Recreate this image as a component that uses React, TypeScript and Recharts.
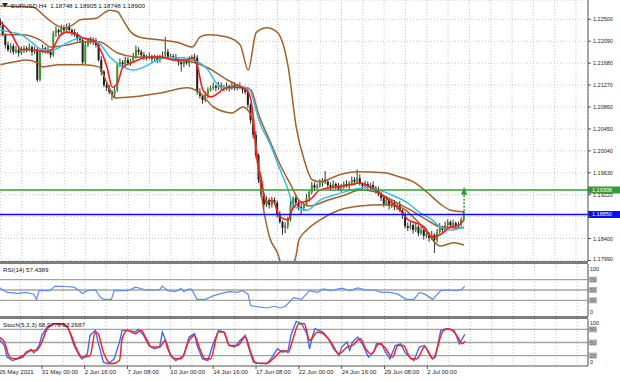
import React from "react"
import { ComposedChart, Bar, Line, XAxis, YAxis, CartesianGrid, ReferenceLine, ReferenceDot } from "recharts"

// EURUSD H4 candles, one entry per bar (bar 0 = 26 May 08:00)
const opens = [
  1.2249, 1.2239, 1.2221, 1.2202, 1.2193, 1.2200, 1.2189, 1.2193, 1.2187, 1.2193,
  1.2196, 1.2193, 1.2198, 1.2189, 1.2193, 1.2137, 1.2189, 1.2196, 1.2193, 1.2189,
  1.2183, 1.2224, 1.2230, 1.2226, 1.2234, 1.2230, 1.2236, 1.2230, 1.2226, 1.2221,
  1.2215, 1.2211, 1.2170, 1.2202, 1.2211, 1.2208, 1.2211, 1.2202, 1.2174, 1.2152,
  1.2127, 1.2122, 1.2114, 1.2109, 1.2118, 1.2165, 1.2170, 1.2166, 1.2174, 1.2168,
  1.2172, 1.2180, 1.2193, 1.2189, 1.2183, 1.2180, 1.2178, 1.2181, 1.2176, 1.2178,
  1.2174, 1.2180, 1.2183, 1.2189, 1.2180, 1.2181, 1.2178, 1.2174, 1.2170, 1.2166,
  1.2172, 1.2168, 1.2174, 1.2180, 1.2178, 1.2114, 1.2107, 1.2099, 1.2109, 1.2118,
  1.2122, 1.2125, 1.2122, 1.2127, 1.2123, 1.2120, 1.2125, 1.2122, 1.2127, 1.2123,
  1.2125, 1.2122, 1.2118, 1.2114, 1.2090, 1.2062, 1.2034, 1.1996, 1.1950, 1.1922,
  1.1903, 1.1912, 1.1903, 1.1912, 1.1907, 1.1884, 1.1871, 1.1860, 1.1864, 1.1875,
  1.1903, 1.1916, 1.1907, 1.1899, 1.1897, 1.1903, 1.1916, 1.1927, 1.1940, 1.1935,
  1.1938, 1.1944, 1.1950, 1.1946, 1.1940, 1.1936, 1.1942, 1.1938, 1.1933, 1.1936,
  1.1942, 1.1938, 1.1944, 1.1950, 1.1946, 1.1953, 1.1942, 1.1938, 1.1942, 1.1936,
  1.1940, 1.1935, 1.1931, 1.1923, 1.1916, 1.1905, 1.1912, 1.1901, 1.1907, 1.1899,
  1.1903, 1.1893, 1.1884, 1.1863, 1.1860, 1.1865, 1.1856, 1.1862, 1.1850, 1.1856,
  1.1845, 1.1849, 1.1841, 1.1847, 1.1837, 1.1852, 1.1860, 1.1856, 1.1865, 1.1871,
  1.1865, 1.1869, 1.1864, 1.1867, 1.18748,
]
const highs = [
  1.2253, 1.2246, 1.2224, 1.2208, 1.2205, 1.2204, 1.2200, 1.2196, 1.2199, 1.2201,
  1.2200, 1.2205, 1.2201, 1.2199, 1.2198, 1.2193, 1.2203, 1.2199, 1.2199, 1.2194,
  1.2228, 1.2237, 1.2233, 1.2240, 1.2239, 1.2242, 1.2243, 1.2233, 1.2232, 1.2226,
  1.2219, 1.2214, 1.2209, 1.2214, 1.2217, 1.2216, 1.2215, 1.2206, 1.2181, 1.2155,
  1.2133, 1.2127, 1.2118, 1.2124, 1.2170, 1.2177, 1.2174, 1.2180, 1.2179, 1.2176,
  1.2187, 1.2201, 1.2198, 1.2193, 1.2189, 1.2184, 1.2188, 1.2184, 1.2184, 1.2183,
  1.2184, 1.2190, 1.2217, 1.2195, 1.2186, 1.2185, 1.2185, 1.2177, 1.2176, 1.2177,
  1.2176, 1.2181, 1.2183, 1.2186, 1.2183, 1.2121, 1.2110, 1.2115, 1.2123, 1.2126,
  1.2132, 1.2128, 1.2133, 1.2132, 1.2127, 1.2132, 1.2128, 1.2133, 1.2132, 1.2129,
  1.2132, 1.2125, 1.2124, 1.2119, 1.2093, 1.2066, 1.2041, 1.1999, 1.1956, 1.1927,
  1.1919, 1.1916, 1.1918, 1.1917, 1.1911, 1.1891, 1.1874, 1.1870, 1.1880, 1.1910,
  1.1919, 1.1922, 1.1912, 1.1905, 1.1907, 1.1923, 1.1930, 1.1946, 1.1945, 1.1943,
  1.1951, 1.1953, 1.1966, 1.1951, 1.1945, 1.1949, 1.1945, 1.1944, 1.1942, 1.1947,
  1.1949, 1.1947, 1.1956, 1.1955, 1.1969, 1.1960, 1.1945, 1.1948, 1.1947, 1.1944,
  1.1947, 1.1938, 1.1937, 1.1928, 1.1921, 1.1919, 1.1915, 1.1913, 1.1912, 1.1907,
  1.1910, 1.1896, 1.1890, 1.1870, 1.1871, 1.1868, 1.1868, 1.1865, 1.1863, 1.1860,
  1.1855, 1.1852, 1.1854, 1.1850, 1.1858, 1.1869, 1.1864, 1.1872, 1.1876, 1.1874,
  1.1875, 1.1872, 1.1872, 1.1879, 1.18905,
]
const lows = [
  1.2234, 1.2218, 1.2195, 1.2189, 1.2187, 1.2184, 1.2186, 1.2180, 1.2183, 1.2187,
  1.2188, 1.2190, 1.2182, 1.2185, 1.2133, 1.2134, 1.2186, 1.2186, 1.2185, 1.2177,
  1.2180, 1.2217, 1.2219, 1.2222, 1.2224, 1.2227, 1.2227, 1.2219, 1.2217, 1.2209,
  1.2206, 1.2165, 1.2166, 1.2198, 1.2204, 1.2202, 1.2197, 1.2171, 1.2145, 1.2123,
  1.2116, 1.2110, 1.2099, 1.2103, 1.2114, 1.2160, 1.2162, 1.2161, 1.2164, 1.2163,
  1.2169, 1.2176, 1.2183, 1.2179, 1.2174, 1.2173, 1.2175, 1.2169, 1.2172, 1.2168,
  1.2169, 1.2177, 1.2176, 1.2176, 1.2174, 1.2172, 1.2171, 1.2163, 1.2152, 1.2160,
  1.2165, 1.2161, 1.2170, 1.2172, 1.2109, 1.2102, 1.2092, 1.2095, 1.2103, 1.2115,
  1.2118, 1.2115, 1.2118, 1.2117, 1.2115, 1.2117, 1.2115, 1.2118, 1.2117, 1.2117,
  1.2119, 1.2111, 1.2110, 1.2084, 1.2055, 1.2027, 1.1991, 1.1944, 1.1916, 1.1896,
  1.1899, 1.1896, 1.1898, 1.1903, 1.1879, 1.1868, 1.1847, 1.1850, 1.1858, 1.1872,
  1.1896, 1.1903, 1.1893, 1.1885, 1.1891, 1.1900, 1.1909, 1.1923, 1.1929, 1.1932,
  1.1935, 1.1937, 1.1942, 1.1934, 1.1929, 1.1933, 1.1931, 1.1929, 1.1927, 1.1933,
  1.1935, 1.1931, 1.1940, 1.1940, 1.1943, 1.1939, 1.1931, 1.1934, 1.1930, 1.1931,
  1.1932, 1.1924, 1.1919, 1.1910, 1.1899, 1.1902, 1.1894, 1.1897, 1.1893, 1.1893,
  1.1890, 1.1877, 1.1859, 1.1854, 1.1857, 1.1849, 1.1852, 1.1844, 1.1847, 1.1838,
  1.1841, 1.1834, 1.1837, 1.1813, 1.1833, 1.1849, 1.1850, 1.1852, 1.1861, 1.1860,
  1.1860, 1.1858, 1.1860, 1.1862, 1.18748,
]
const closes = [
  1.2239, 1.2221, 1.2202, 1.2193, 1.2200, 1.2189, 1.2193, 1.2187, 1.2193, 1.2196,
  1.2193, 1.2198, 1.2189, 1.2193, 1.2137, 1.2189, 1.2196, 1.2193, 1.2189, 1.2183,
  1.2224, 1.2230, 1.2226, 1.2234, 1.2230, 1.2236, 1.2230, 1.2226, 1.2221, 1.2215,
  1.2211, 1.2170, 1.2202, 1.2211, 1.2208, 1.2211, 1.2202, 1.2174, 1.2152, 1.2127,
  1.2122, 1.2114, 1.2109, 1.2118, 1.2165, 1.2170, 1.2166, 1.2174, 1.2168, 1.2172,
  1.2180, 1.2193, 1.2189, 1.2183, 1.2180, 1.2178, 1.2181, 1.2176, 1.2178, 1.2174,
  1.2180, 1.2183, 1.2189, 1.2180, 1.2181, 1.2178, 1.2174, 1.2170, 1.2166, 1.2172,
  1.2168, 1.2174, 1.2180, 1.2178, 1.2114, 1.2107, 1.2099, 1.2109, 1.2118, 1.2122,
  1.2125, 1.2122, 1.2127, 1.2123, 1.2120, 1.2125, 1.2122, 1.2127, 1.2123, 1.2125,
  1.2122, 1.2118, 1.2114, 1.2090, 1.2062, 1.2034, 1.1996, 1.1950, 1.1922, 1.1903,
  1.1912, 1.1903, 1.1912, 1.1907, 1.1884, 1.1871, 1.1860, 1.1864, 1.1875, 1.1903,
  1.1916, 1.1907, 1.1899, 1.1897, 1.1903, 1.1916, 1.1927, 1.1940, 1.1935, 1.1938,
  1.1944, 1.1950, 1.1946, 1.1940, 1.1936, 1.1942, 1.1938, 1.1933, 1.1936, 1.1942,
  1.1938, 1.1944, 1.1950, 1.1946, 1.1953, 1.1942, 1.1938, 1.1942, 1.1936, 1.1940,
  1.1935, 1.1931, 1.1923, 1.1916, 1.1905, 1.1912, 1.1901, 1.1907, 1.1899, 1.1903,
  1.1893, 1.1884, 1.1863, 1.1860, 1.1865, 1.1856, 1.1862, 1.1850, 1.1856, 1.1845,
  1.1849, 1.1841, 1.1847, 1.1837, 1.1852, 1.1860, 1.1856, 1.1865, 1.1871, 1.1865,
  1.1869, 1.1864, 1.1867, 1.18748, 1.18900,
]

// indicator readings, [bar, value], taken at the turning points of each curve
const maFast = [
  [0, 1.2245], [4, 1.2224], [8, 1.2193], [12, 1.2193], [18, 1.2189], [20, 1.2198], [22, 1.2217], [25, 1.2226],
  [29, 1.2221], [31, 1.2215], [35, 1.2211], [37, 1.2198], [40, 1.2161], [42, 1.2123], [44, 1.2131], [46, 1.2161],
  [50, 1.2170], [54, 1.2178], [60, 1.2180], [65, 1.2174], [70, 1.2174], [72, 1.2178], [74, 1.2161], [76, 1.2118],
  [79, 1.2105], [85, 1.2122], [90, 1.2123], [93, 1.2114], [95, 1.2062], [96, 1.2000], [98, 1.1950], [99, 1.1918],
  [100, 1.1907], [102, 1.1912], [105, 1.1880], [108, 1.1875], [109, 1.1888], [110, 1.1899], [112, 1.1906],
  [116, 1.1912], [120, 1.1931], [125, 1.1936], [131, 1.1940], [135, 1.1944], [139, 1.1936], [144, 1.1918],
  [147, 1.1907], [150, 1.1893], [153, 1.1875], [156, 1.1869], [159, 1.1862], [162, 1.1843], [165, 1.1847],
  [169, 1.1862], [172, 1.1865], [174, 1.1875],
]
const maSlow = [
  [0, 1.2230], [4, 1.2226], [8, 1.2221], [12, 1.2206], [16, 1.2193], [20, 1.2193], [25, 1.2206], [30, 1.2215],
  [35, 1.2211], [37, 1.2206], [41, 1.2180], [46, 1.2161], [50, 1.2155], [54, 1.2161], [59, 1.2174], [63, 1.2178],
  [69, 1.2178], [72, 1.2174], [75, 1.2168], [78, 1.2155], [81, 1.2131], [85, 1.2122], [90, 1.2123], [93, 1.2122],
  [96, 1.2080], [97, 1.2062], [101, 1.2019], [105, 1.1968], [108, 1.1931], [110, 1.1899], [112, 1.1897],
  [115, 1.1893], [120, 1.1912], [125, 1.1921], [132, 1.1931], [138, 1.1936], [142, 1.1931], [147, 1.1921],
  [153, 1.1906], [157, 1.1890], [162, 1.1875], [165, 1.1862], [169, 1.1856], [173, 1.1860], [174, 1.1862],
]
const bbUpper = [
  [0, 1.2275], [12, 1.2273], [17, 1.2254], [21, 1.2239], [24, 1.2234], [27, 1.2239], [30, 1.2249], [36, 1.2252],
  [39, 1.2262], [41, 1.2267], [44, 1.2264], [46, 1.2249], [49, 1.2226], [52, 1.2217], [61, 1.2211], [67, 1.2206],
  [72, 1.2198], [75, 1.2217], [78, 1.2221], [85, 1.2217], [90, 1.2202], [93, 1.2155], [96, 1.2225], [100, 1.2234],
  [104, 1.2225], [108, 1.2161], [111, 1.2049], [114, 1.1987], [117, 1.1950], [120, 1.1946], [127, 1.1959],
  [134, 1.1965], [144, 1.1963], [150, 1.1955], [155, 1.1946], [160, 1.1927], [165, 1.1905], [169, 1.1893],
  [174, 1.1890],
]
const bbMiddle = [
  [0, 1.2221], [8, 1.2221], [15, 1.2211], [19, 1.2198], [25, 1.2202], [31, 1.2208], [37, 1.2208], [44, 1.2187],
  [50, 1.2180], [60, 1.2178], [66, 1.2174], [72, 1.2170], [78, 1.2159], [85, 1.2137], [91, 1.2123], [94, 1.2118],
  [97, 1.2071], [101, 1.2024], [105, 1.1978], [109, 1.1940], [112, 1.1912], [116, 1.1901], [123, 1.1912],
  [129, 1.1921], [135, 1.1931], [141, 1.1927], [147, 1.1912], [154, 1.1893], [160, 1.1875], [165, 1.1862],
  [170, 1.1860], [174, 1.1860],
]
const bbLower = [
  [0, 1.2165], [5, 1.2170], [10, 1.2174], [14, 1.2168], [16, 1.2161], [22, 1.2165], [31, 1.2165], [37, 1.2161],
  [40, 1.2131], [43, 1.2103], [50, 1.2105], [60, 1.2112], [70, 1.2122], [75, 1.2112], [80, 1.2086], [87, 1.2075],
  [91, 1.2086], [94, 1.2071], [99, 1.1888], [101, 1.1843], [104, 1.1813], [106, 1.1785], [109, 1.1785],
  [111, 1.1809], [112, 1.1837], [115, 1.1856], [120, 1.1875], [127, 1.1893], [135, 1.1901], [144, 1.1903],
  [150, 1.1899], [156, 1.1875], [160, 1.1852], [165, 1.1826], [170, 1.1832], [174, 1.1828],
]
const rsi = [
  [0, 55.4], [2, 48.7], [3, 45.4], [7, 43.4], [10, 45.4], [13, 42], [14, 32], [15, 48.7], [19, 48.7], [21, 57.4],
  [25, 56.7], [28, 55.4], [30, 48.7], [31, 43.4], [33, 48.7], [36, 50], [38, 35.4], [39, 32], [42, 32], [43, 48.7],
  [48, 48.7], [51, 55.4], [55, 50], [60, 50.7], [61, 57.4], [63, 48.7], [66, 46.7], [68, 53.4], [69, 46.7], [71, 52],
  [72, 50.7], [74, 32], [77, 32], [80, 38.7], [83, 43.4], [86, 46.7], [89, 45.4], [91, 48.7], [93, 42], [94, 20],
  [97, 17.4], [100, 15.4], [103, 18.7], [105, 15.4], [107, 18.7], [110, 35.4], [113, 32], [116, 48.7], [119, 45.4],
  [121, 52], [124, 48.7], [128, 53.4], [131, 48.7], [134, 54], [137, 50], [140, 50], [143, 45.4], [146, 45.4],
  [149, 42], [152, 32], [155, 32], [157, 45.4], [159, 42], [162, 32], [165, 48.7], [168, 50], [171, 48.7], [173, 52],
  [174, 57.44],
]
const stochMain = [
  [0, 58.6], [2, 43.2], [3, 16.3], [5, 8.6], [7, 12.4], [9, 16.3], [10, 27.8], [12, 34], [13, 26.3], [15, 43.2],
  [16, 66.3], [18, 85.6], [21, 93.3], [24, 93.3], [26, 81.7], [28, 43.2], [30, 20.1], [31, 12.4], [33, 24], [34, 66.3],
  [36, 77.9], [37, 50.9], [39, 4.7], [41, 0.9], [43, 12.4], [45, 50.9], [46, 77.9], [48, 77.9], [51, 74], [52, 80.2],
  [54, 66.3], [56, 43.2], [58, 35.5], [60, 39.4], [61, 74], [63, 43.2], [64, 20.1], [66, 8.6], [69, 20.1], [71, 62.5],
  [73, 70.2], [74, 43.2], [76, 12.4], [78, 8.6], [80, 47], [82, 77.9], [84, 74], [86, 43.2], [88, 39.4], [90, 54.8],
  [92, 66.3], [93, 43.2], [95, 4.7], [97, 2.4], [100, 0.9], [102, 16.3], [104, 35.5], [106, 27.8], [108, 31.7],
  [109, 66.3], [111, 98.6], [113, 93.3], [115, 70.2], [116, 35.5], [117, 62.5], [118, 81.7], [121, 74], [123, 58.6],
  [125, 35.5], [127, 20.1], [128, 39.4], [130, 50.9], [131, 31.7], [132, 50.9], [134, 62.5], [136, 43.2], [138, 16.3],
  [140, 27.8], [141, 47], [143, 47], [144, 31.7], [146, 12.4], [148, 43.2], [150, 47], [152, 24], [155, 8.6],
  [157, 39.4], [159, 43.2], [162, 12.4], [163, 16.3], [165, 77.9], [167, 81.7], [170, 77.9], [172, 47], [174, 68.98],
]
const stochSignal = [
  [0, 62.5], [2, 50.9], [4, 16.3], [6, 12.4], [9, 20.1], [12, 31.7], [14, 31.7], [16, 50.9], [18, 81.7], [21, 93.3],
  [25, 89.4], [27, 66.3], [29, 35.5], [31, 16.3], [34, 20.1], [36, 74], [37, 70.2], [39, 27.8], [42, 0.9], [45, 8.6],
  [46, 58.6], [48, 77.9], [51, 70.2], [53, 77.9], [55, 58.6], [57, 39.4], [60, 39.4], [62, 54.8], [63, 35.5],
  [66, 12.4], [68, 12.4], [71, 54.8], [73, 66.3], [75, 35.5], [77, 12.4], [79, 12.4], [82, 74], [84, 74], [86, 43.2],
  [89, 43.2], [92, 62.5], [94, 27.8], [96, 2.4], [100, 2.4], [103, 16.3], [106, 31.7], [108, 27.8], [110, 62.5],
  [112, 93.3], [114, 93.3], [116, 54.8], [119, 74], [121, 70.2], [124, 50.9], [127, 24], [130, 39.4], [132, 43.2],
  [135, 58.6], [137, 35.5], [139, 24], [142, 47], [144, 39.4], [147, 16.3], [149, 43.2], [151, 43.2], [154, 12.4],
  [156, 12.4], [159, 39.4], [162, 12.4], [166, 77.9], [168, 81.7], [171, 66.3], [173, 47], [174, 53.27],
]

const priceTicks = [1.1799, 1.184, 1.1881, 1.1922, 1.1963, 1.2004, 1.2045, 1.2086, 1.2127, 1.2168, 1.2209, 1.225]
const gridTicks = [0, 8, 16, 24, 32, 40, 48, 56, 64, 72, 80, 88, 96, 104, 112, 120, 128, 136, 144, 152, 160, 168, 176, 184, 192, 200, 208, 216]
const dateTicks = [0, 16, 32, 48, 64, 80, 96, 112, 128, 144, 160]
const dateLabels = ["26 May 2021", "31 May 00:00", "2 Jun 16:00", "7 Jun 08:00", "10 Jun 00:00", "14 Jun 16:00", "17 Jun 08:00", "22 Jun 00:00", "24 Jun 16:00", "29 Jun 08:00", "2 Jul 00:00"]
const resistance = 1.19308
const support = 1.1885

const SLOTS = 221
const FONT = "'Liberation Sans', Arial, sans-serif"
const GRID = "#c6c6c6"
const BROWN = "#a2602c"

const rows: any[] = Array.from({ length: SLOTS }, (_, i) => ({ i }))
opens.forEach((o, i) => {
  Object.assign(rows[i], { o, h: highs[i], l: lows[i], c: closes[i], range: [lows[i], highs[i]] })
})
const put = (list: number[][], key: string) => list.forEach(([b, v]) => { rows[b][key] = v })
put(maFast, "fast")
put(maSlow, "slow")
put(bbUpper, "bbU")
put(bbMiddle, "bbM")
put(bbLower, "bbL")
put(rsi, "rsi")
put(stochMain, "k")
put(stochSignal, "d")

function Candle(props: any) {
  const { x, y, width, height, payload } = props
  if (!payload || payload.h == null) return null
  const { o, h, l, c } = payload
  const top = Math.min(y, y + height)
  const span = Math.abs(height)
  const py = (p: number) => top + ((h - p) / (h - l || 1e-9)) * span
  const cx = x + width / 2
  const bTop = py(Math.max(o, c))
  const bBot = py(Math.min(o, c))
  return (
    <g>
      <line x1={cx} x2={cx} y1={top} y2={top + span} stroke="#333" strokeWidth={1} />
      <rect x={cx - 1} y={bTop} width={2} height={Math.max(bBot - bTop, 0.8)} fill={c >= o ? "#3b9a2b" : "#1c1c1c"} />
    </g>
  )
}

// the blue tag covers the 1.18810 label, and the lowest label sits on the panel edge
function PriceTick(props: any) {
  const { x, y, payload } = props
  const v = payload.value
  if (Math.abs(v - 1.1881) < 1e-6) return null
  return (
    <text x={x} y={v < 1.18 ? y - 1.8 : y} fontSize={5.5} fill="#222" fontFamily={FONT} dominantBaseline="central">
      {v.toFixed(5)}
    </text>
  )
}

function PriceTag({ viewBox, text, color }: any) {
  const x = viewBox.x + viewBox.width
  return (
    <g>
      <rect x={x} y={viewBox.y - 3.5} width={32} height={7} fill={color} />
      <text x={x + 4} y={viewBox.y + 2} fontSize={5.5} fill="#fff" fontFamily={FONT}>{text}</text>
    </g>
  )
}

function LevelTick(props: any) {
  const { x, y, payload, top, bottom, topShift, bottomShift } = props
  const v = payload.value
  if (v === top || v === bottom) {
    return (
      <text x={x} y={y + (v === top ? topShift : bottomShift)} fontSize={5.5} fill="#222" fontFamily={FONT} dominantBaseline="central">{v}</text>
    )
  }
  return (
    <g>
      <rect x={x - 1} y={y - 3} width={8} height={6} fill="#b2b2b2" />
      <text x={x} y={y} fontSize={5} fill="#666" fontFamily={FONT} dominantBaseline="central">{v}</text>
    </g>
  )
}

function DateTick(props: any) {
  const { x, y, payload } = props
  const k = dateTicks.indexOf(payload.value)
  if (k < 0) return null
  return (
    <g>
      <line x1={x} x2={x} y1={y} y2={y + 3} stroke="#555" />
      <text x={x} y={y + 8} fontSize={6} fill="#222" fontFamily={FONT}>{dateLabels[k]}</text>
    </g>
  )
}

function Arrowhead({ cx, cy }: any) {
  return <polygon points={`${cx},${cy - 5} ${cx - 3},${cy + 3} ${cx + 3},${cy + 3}`} fill="#2f9a2f" />
}

const Separator = () => (
  <div style={{ display: "flex", height: 3 }}>
    <div style={{ width: 588, background: "#7d7d7d" }} />
    <div style={{ width: 32, background: "#fff" }} />
  </div>
)

const label = (top: number, text: string, extra: any = {}) => (
  <div style={{ position: "absolute", left: 3, top, fontSize: 6.2, lineHeight: "7px", fontFamily: FONT, color: "#111", whiteSpace: "pre", ...extra }}>{text}</div>
)

export default function App() {
  const line = (key: string, color: string, width = 1.5, type: any = "monotone") => (
    <Line dataKey={key} stroke={color} strokeWidth={width} dot={false} activeDot={false} type={type} connectNulls isAnimationActive={false} />
  )
  return (
    <div style={{ position: "absolute", left: 0, top: 0, width: 620, height: 381, background: "#fff", overflow: "hidden" }}>
      <ComposedChart width={620} height={261} data={rows} margin={{ top: 0, right: 0, bottom: 0, left: -1 }}>
        <CartesianGrid stroke={GRID} strokeDasharray="1 2" />
        <XAxis dataKey="i" hide ticks={gridTicks} interval={0} />
        <YAxis orientation="right" width={32} domain={[1.1798, 1.22861]} allowDataOverflow ticks={priceTicks} interval={0}
          tick={<PriceTick />} tickSize={3} tickMargin={2} stroke="#555" />
        <Bar dataKey="range" barSize={2} shape={<Candle />} isAnimationActive={false} />
        {line("bbU", BROWN)}
        {line("bbM", BROWN)}
        {line("bbL", BROWN)}
        {line("slow", "#33bcef")}
        {line("fast", "#ff1a1a", 1.6)}
        <ReferenceLine y={resistance} stroke="#3a9a3a" strokeWidth={1.3}
          label={(p: any) => <PriceTag {...p} text="1.19308" color="#3a9a3a" />} />
        <ReferenceLine y={support} stroke="#0a0aff" strokeWidth={1.3}
          label={(p: any) => <PriceTag {...p} text="1.18850" color="#0a0aff" />} />
        <ReferenceLine segment={[{ x: 174, y: 1.1891 }, { x: 174, y: 1.1921 }]} stroke="#2f9a2f" strokeWidth={1.5} strokeDasharray="2 1.5" />
        <ReferenceDot x={174} y={1.19275} r={3} shape={<Arrowhead />} />
      </ComposedChart>
      <Separator />
      <ComposedChart width={620} height={52} data={rows} margin={{ top: 0, right: 0, bottom: 0, left: -1 }}>
        <CartesianGrid stroke={GRID} strokeDasharray="1 2" horizontal={false} />
        <XAxis dataKey="i" hide ticks={gridTicks} interval={0} />
        <YAxis orientation="right" width={32} domain={[0, 100]} ticks={[0, 30, 50, 70, 100]} interval={0}
          tickSize={0} tickMargin={2} stroke="#555"
          tick={<LevelTick top={100} bottom={0} topShift={5} bottomShift={-4} />} />
        <ReferenceLine y={70} stroke="#a4a4a4" strokeWidth={1.3} />
        <ReferenceLine y={50} stroke="#a4a4a4" strokeWidth={1.3} />
        <ReferenceLine y={30} stroke="#a4a4a4" strokeWidth={1.3} />
        {line("rsi", "#5b8ef0", 1.2, "linear")}
      </ComposedChart>
      <Separator />
      <ComposedChart width={620} height={62} data={rows} margin={{ top: 0, right: 0, bottom: 0, left: -1 }}>
        <CartesianGrid stroke={GRID} strokeDasharray="1 2" horizontal={false} />
        <XAxis dataKey="i" ticks={gridTicks} interval={0} height={15} tickSize={0} tickMargin={0} tickLine={false}
          stroke="#555" tick={<DateTick />} />
        <YAxis orientation="right" width={32} domain={[-4, 104]} ticks={[0, 20, 50, 80, 100]} interval={0}
          tickSize={0} tickMargin={2} stroke="#555"
          tick={<LevelTick top={100} bottom={0} topShift={2.5} bottomShift={-2} />} />
        <ReferenceLine y={80} stroke="#a4a4a4" strokeWidth={1.3} />
        <ReferenceLine y={50} stroke="#a4a4a4" strokeWidth={1.3} />
        <ReferenceLine y={20} stroke="#a4a4a4" strokeWidth={1.3} />
        {line("k", "#3d6ef2", 1.4, "linear")}
        {line("d", "#ff1f1f", 1.5, "monotone")}
      </ComposedChart>
      <svg style={{ position: "absolute", left: 2, top: 2 }} width={6} height={6}>
        <polygon points="0,1 6,1 3,5" fill="#222" />
      </svg>
      {label(1.5, "EURUSD,H4  1.18748 1.18905 1.18748 1.18900", { left: 11 })}
      {label(266, "RSI(14) 57.4389")}
      {label(320.5, "Stoch(5,3,3) 68.9779 53.2687")}
    </div>
  )
}
